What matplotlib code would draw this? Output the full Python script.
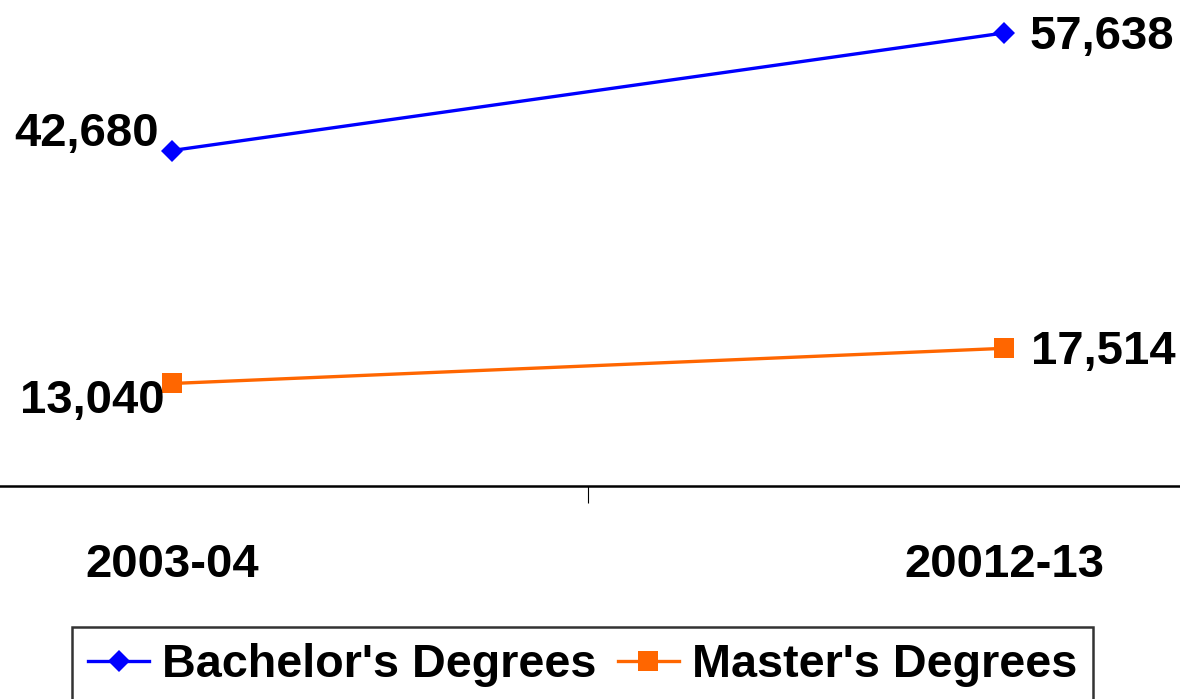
import matplotlib
matplotlib.use("Agg")
import matplotlib.pyplot as plt
from matplotlib.ticker import FixedLocator

categories = ["2003-04", "20012-13"]
bachelors = [42680, 57638]
masters = [13040, 17514]
series_names = ["Bachelor's Degrees", "Master's Degrees"]

plt.rcParams['font.family'] = ['Liberation Sans', 'DejaVu Sans']
plt.rcParams['font.weight'] = 'bold'

PX = 0.72  # points per pixel at dpi 100
FS = 34

fig = plt.figure(figsize=(11.8, 6.99), dpi=100)
ax = fig.add_axes([0, 0, 1, 1])
x = list(range(len(categories)))

ax.plot(x, bachelors, color='#0000FF', lw=2.4, marker='D', markersize=11.5,
        markeredgewidth=0, label=series_names[0], clip_on=False)
ax.plot(x, masters, color='#FF6600', lw=2.4, marker='s', markersize=14.8,
        markeredgewidth=0, label=series_names[1], clip_on=False)

ax.set_xlim(-0.2067, 1.2115)
ax.set_ylim(-27100, 61830)

for s in ['top', 'left', 'right']:
    ax.spines[s].set_visible(False)
ax.spines['bottom'].set_position(('data', 0))
ax.spines['bottom'].set_linewidth(1.8)
ax.set_yticks([])

ax.xaxis.set_major_locator(FixedLocator(x))
ax.set_xticklabels(categories, fontsize=FS, fontweight='bold')
ax.tick_params(axis='x', which='major', length=0, pad=41)
ax.xaxis.set_minor_locator(FixedLocator([0.5]))
ax.tick_params(axis='x', which='minor', length=12, width=0.8, direction='out')

def fmt(v):
    return f"{v:,}"

ann = [
    (0, bachelors[0], (-13, 5), 'right'),
    (1, bachelors[1], (25, -16), 'left'),
    (0, masters[0], (-7, -30), 'right'),
    (1, masters[1], (27, -16), 'left'),
]
for xi, v, (dx, dy), ha in ann:
    ax.annotate(fmt(v), (xi, v), xytext=(dx * PX, dy * PX), textcoords='offset points',
                ha=ha, va='baseline', fontsize=FS, fontweight='bold', annotation_clip=False)

leg = fig.legend(loc='upper left', bbox_to_anchor=(72 / 1180, 1 - 627 / 699), ncol=2,
                 frameon=True, fancybox=False, edgecolor='black',
                 borderpad=0.35, handlelength=1.3, handletextpad=0.28, columnspacing=0.45,
                 borderaxespad=0, prop={'weight': 'bold', 'size': 33.7})
leg.get_frame().set_linewidth(1.8)

fig.savefig("out.png", dpi=100)
